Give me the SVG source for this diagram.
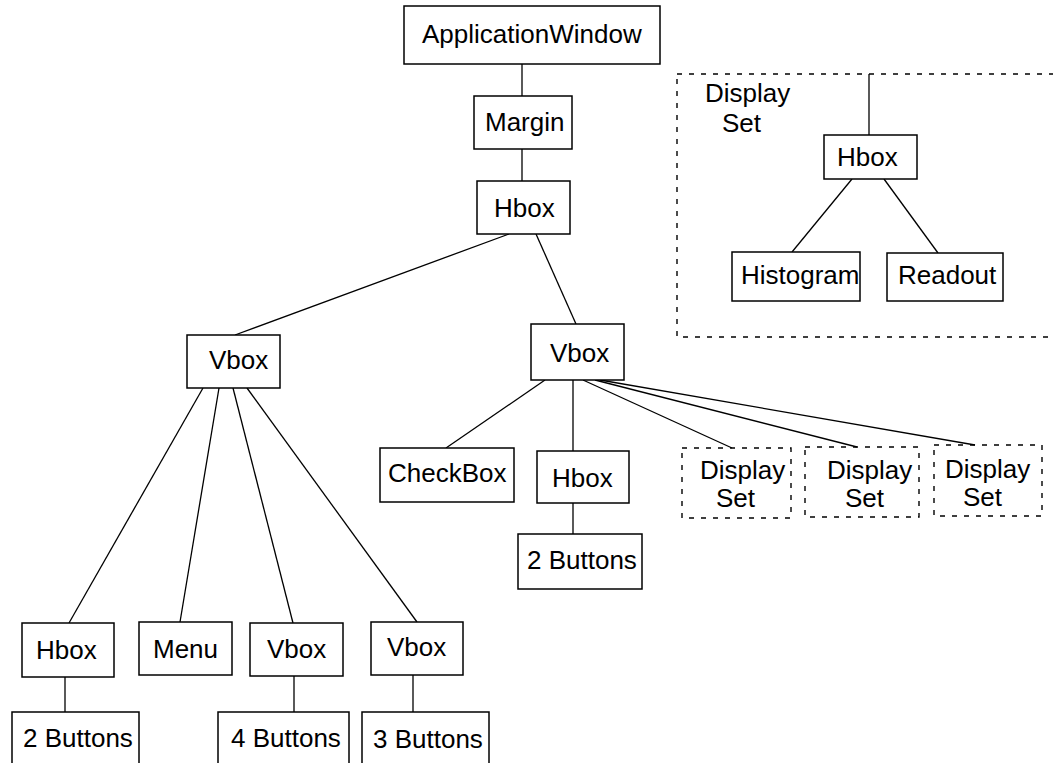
<svg xmlns="http://www.w3.org/2000/svg" width="1053" height="763" viewBox="0 0 1053 763">
<style>
.b{fill:#fff;stroke:#000;stroke-width:1.5}
.d{fill:none;stroke:#000;stroke-width:1.4;stroke-dasharray:5 7}
.t{font-family:"Liberation Sans",Arial,sans-serif;font-size:26px;fill:#000}
#connectors line{stroke:#000;stroke-width:1.3}
</style>
<rect width="1053" height="763" fill="#fff"/>
<g id="connectors">
<line x1="522" y1="64" x2="522" y2="96"/>
<line x1="522" y1="149" x2="522" y2="181"/>
<line x1="509" y1="234" x2="235" y2="335"/>
<line x1="536" y1="234" x2="576" y2="324"/>
<line x1="203" y1="388" x2="69" y2="623"/>
<line x1="219" y1="388" x2="180" y2="622"/>
<line x1="233" y1="388" x2="293" y2="623"/>
<line x1="247" y1="388" x2="417" y2="622"/>
<line x1="65" y1="677" x2="65" y2="712"/>
<line x1="294" y1="676" x2="294" y2="712"/>
<line x1="413" y1="675" x2="413" y2="712"/>
<line x1="545" y1="380" x2="446" y2="448"/>
<line x1="573" y1="380" x2="573" y2="451"/>
<line x1="573" y1="503" x2="573" y2="534"/>
<line x1="583" y1="380" x2="732" y2="448"/>
<line x1="595" y1="380" x2="857" y2="447"/>
<line x1="600" y1="380" x2="975" y2="445"/>
<line x1="869" y1="74" x2="869" y2="135"/>
<line x1="852" y1="179" x2="792" y2="252"/>
<line x1="884" y1="179" x2="938" y2="253"/>
</g>
<g id="displayset-main">
<rect class="d" x="677" y="74" width="390" height="263"/>
<text class="t" x="705" y="102">Display</text>
<text class="t" x="722" y="132">Set</text>
</g>
<g id="appwindow"><rect class="b" x="404" y="6" width="256" height="58"/><text class="t" x="422" y="43">ApplicationWindow</text></g>
<g id="margin"><rect class="b" x="474" y="96" width="98" height="53"/><text class="t" x="485" y="131">Margin</text></g>
<g id="hbox-top"><rect class="b" x="477" y="181" width="93" height="53"/><text class="t" x="494" y="217">Hbox</text></g>
<g id="vbox-left"><rect class="b" x="187" y="335" width="93" height="53"/><text class="t" x="209" y="369">Vbox</text></g>
<g id="vbox-right"><rect class="b" x="531" y="324" width="93" height="56"/><text class="t" x="550" y="362">Vbox</text></g>
<g id="hbox-b1"><rect class="b" x="22" y="623" width="92" height="54"/><text class="t" x="36" y="659">Hbox</text></g>
<g id="menu"><rect class="b" x="139" y="622" width="93" height="53"/><text class="t" x="153" y="658">Menu</text></g>
<g id="vbox-b3"><rect class="b" x="250" y="623" width="93" height="53"/><text class="t" x="267" y="658">Vbox</text></g>
<g id="vbox-b4"><rect class="b" x="371" y="622" width="92" height="53"/><text class="t" x="387" y="656">Vbox</text></g>
<g id="buttons2-left"><rect class="b" x="12" y="712" width="127" height="70"/><text class="t" x="23" y="747">2 Buttons</text></g>
<g id="buttons4"><rect class="b" x="218" y="712" width="131" height="70"/><text class="t" x="231" y="747">4 Buttons</text></g>
<g id="buttons3"><rect class="b" x="362" y="712" width="127" height="70"/><text class="t" x="373" y="748">3 Buttons</text></g>
<g id="checkbox"><rect class="b" x="380" y="448" width="134" height="54"/><text class="t" x="388" y="482">CheckBox</text></g>
<g id="hbox-right"><rect class="b" x="537" y="451" width="92" height="52"/><text class="t" x="552" y="487">Hbox</text></g>
<g id="buttons2-right"><rect class="b" x="518" y="534" width="124" height="55"/><text class="t" x="527" y="569">2 Buttons</text></g>
<g id="ds1"><rect class="d" x="682" y="448" width="109" height="70"/><text class="t" x="700" y="479">Display</text><text class="t" x="716" y="507">Set</text></g>
<g id="ds2"><rect class="d" x="805" y="447" width="114" height="70"/><text class="t" x="827" y="479">Display</text><text class="t" x="845" y="507">Set</text></g>
<g id="ds3"><rect class="d" x="934" y="445" width="108" height="71"/><text class="t" x="945" y="478">Display</text><text class="t" x="963" y="506">Set</text></g>
<g id="hbox-ds"><rect class="b" x="824" y="135" width="93" height="44"/><text class="t" x="837" y="166">Hbox</text></g>
<g id="histogram"><rect class="b" x="732" y="252" width="128" height="49"/><text class="t" x="741" y="284">Histogram</text></g>
<g id="readout"><rect class="b" x="887" y="253" width="116" height="48"/><text class="t" x="898" y="284">Readout</text></g>
</svg>
